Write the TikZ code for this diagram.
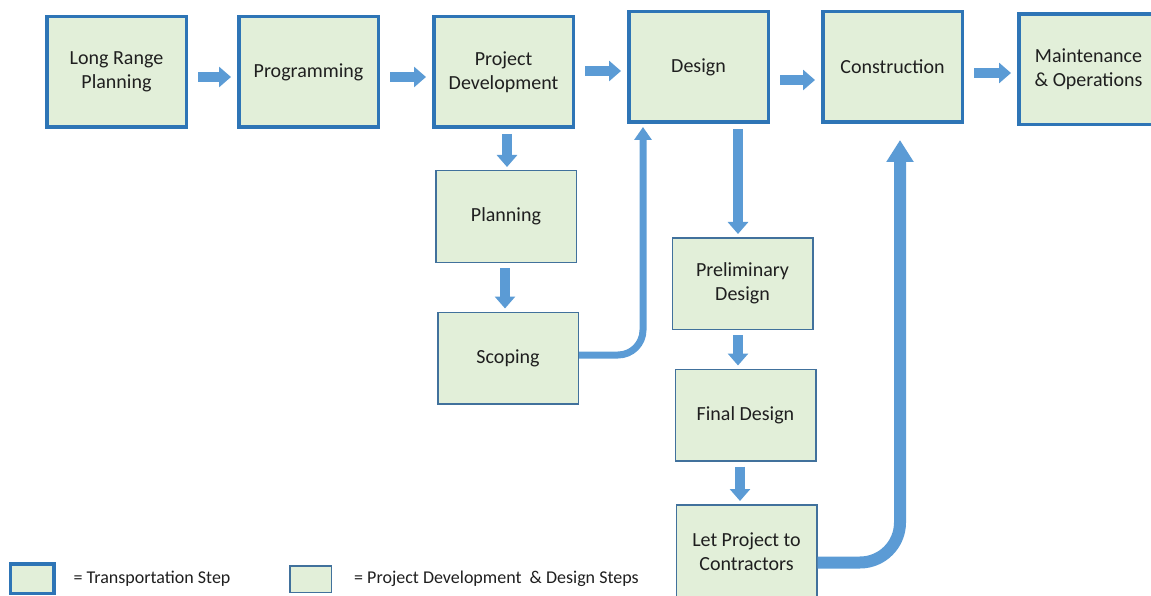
\documentclass[tikz,border=0pt]{standalone}
\usepackage{fontspec}
\setmainfont{Carlito}
\usetikzlibrary{positioning,arrows.meta}
\definecolor{stepblue}{HTML}{2E75B6}
\definecolor{subblue}{HTML}{41719C}
\definecolor{stepfill}{HTML}{E2EFD9}
\definecolor{flowblue}{HTML}{5B9BD5}
\definecolor{textgray}{HTML}{1F1F1F}
\tikzset{
  stepbox/.style={draw=stepblue, line width=3.5pt, fill=stepfill, minimum width=139.5pt,
    minimum height=110.5pt, align=center, text=textgray, font=\fontsize{20}{24}\selectfont},
  subbox/.style={draw=subblue, line width=1.5pt, fill=stepfill, minimum width=140.5pt,
    minimum height=91.5pt, align=center, text=textgray, font=\fontsize{20}{24}\selectfont},
  legtext/.style={inner sep=0pt, text=textgray, font=\fontsize{18}{22}\selectfont},
  hflow/.style={draw=flowblue, line width=10pt, -{Triangle[width=20pt,length=12pt]},
    shorten <=10pt, shorten >=6pt},
  vflow/.style={hflow, shorten <=5pt, shorten >=3pt},
  loopflow/.style={draw=flowblue, line width=7pt, rounded corners=25pt,
    -{Triangle[width=17pt,length=13pt]}, shorten >=3pt},
  bigflow/.style={draw=flowblue, line width=12pt, rounded corners=40pt,
    -{Triangle[width=26pt,length=22pt]}, shorten >=16pt}
}
\begin{document}
\begin{tikzpicture}[x=1pt,y=-1pt]
  \clip (0,0) rectangle (1151,596);
  % transportation steps
  \node[stepbox] (lrp) at (116.5,72) {Long Range\\Planning};
  \node[stepbox] (prog) at (308.5,72) {Programming};
  \node[stepbox] (pdev) at (503.5,72) {Project\\Development};
  \node[stepbox] (desg) at (698.5,67) {Design};
  \node[stepbox] (cons) at (892.5,67) {Construction};
  \node[stepbox] (mops) at (1088.5,69.5) {Maintenance\\\& Operations};
  % project development and design steps
  \node[subbox] (plan) at (506,216.5) {Planning};
  \node[subbox] (scop) at (508,358) {Scoping};
  \node[subbox] (prel) at (742.5,283.5) {Preliminary\\Design};
  \node[subbox] (finl) at (745.5,415) {Final Design};
  \node[subbox, minimum height=93.5pt] (letp) at (746.5,551.5) {Let Project to\\Contractors};

  \draw[hflow] ([yshift=-5pt]lrp.east) -- ([yshift=-5pt]prog.west);
  \draw[hflow] ([yshift=-5pt]prog.east) -- ([yshift=-5pt]pdev.west);
  \draw[hflow] ([yshift=1pt]pdev.east) -- ([yshift=-4pt]desg.west);
  \draw[hflow] ([yshift=-13pt]desg.east) -- ([yshift=-13pt]cons.west);
  \draw[hflow] ([yshift=-6pt]cons.east) -- ([yshift=-3.5pt]mops.west);

  \draw[vflow] ([xshift=3.5pt]pdev.south) -- ([xshift=1pt]plan.north);
  \draw[vflow] ([xshift=-1pt]plan.south) -- ([xshift=-3pt]scop.north);
  \draw[vflow] ([xshift=39.5pt]desg.south) -- ([xshift=-4.5pt]prel.north);
  \draw[vflow] ([xshift=-4.5pt]prel.south) -- ([xshift=-7.5pt]finl.north);
  \draw[vflow] ([xshift=-5.5pt]finl.south) -- ([xshift=-6.5pt]letp.north);

  \draw[loopflow] ([yshift=3pt]scop.east) -| ([xshift=16pt]desg.south west);
  \draw[bigflow] ([yshift=-11pt]letp.east) -| ([xshift=79pt]cons.south west);

  % legend
  \node[stepbox, minimum width=43.5pt, minimum height=29.5pt] (legstep) at (32,578.5) {};
  \node[legtext, right=18pt of legstep] (legsteptxt) {= Transportation Step};
  \node[subbox, minimum width=41.5pt, minimum height=26.5pt] (legsub) at (310.5,579) {};
  \node[legtext, right=22pt of legsub] (legsubtxt) {= Project Development~~\& Design Steps};
\end{tikzpicture}
\end{document}
